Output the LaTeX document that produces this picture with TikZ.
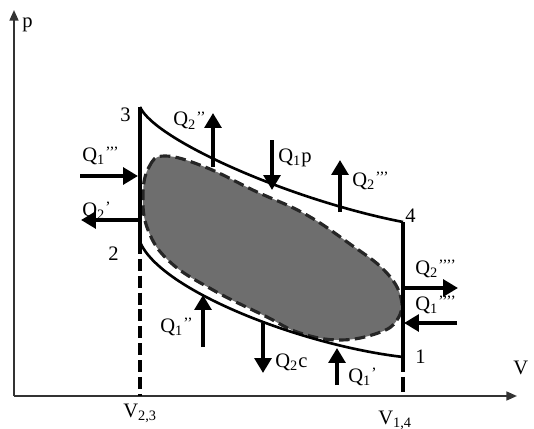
\documentclass[tikz,border=0pt]{standalone}
\usepackage{fontspec}
\setmainfont{Liberation Serif}
\usetikzlibrary{arrows.meta}
\tikzset{
  axis/.style  = {line width=1.2pt, draw=black!80, -{Triangle[length=6pt,width=5pt]}},
  wall/.style  = {line width=2pt},
  curve/.style = {line width=1.5pt},
  gap/.style   = {line width=2pt, dash pattern=on 6.8pt off 2.8pt},
  blob/.style  = {fill=black!57, draw=black!85, line width=1.8pt, dash pattern=on 6pt off 3pt},
  heat/.style  = {line width=2.8pt, -{Triangle[length=8.5pt,width=9.5pt]}},
  lbl/.style   = {font=\fontsize{11.7}{13}\selectfont, inner sep=0pt, anchor=base west},
}
\newcommand{\pr}[1]{\raisebox{1.8pt}{\fontsize{9}{9}\selectfont #1}}

\begin{document}
\begin{tikzpicture}[x=0.02cm, y=-0.02cm]
\useasboundingbox (0,0) rectangle (534,429);

% axes and corner points
\coordinate (o) at (14,396);
\coordinate (ptop) at (14,10);
\coordinate (vend) at (517,396);
\coordinate (c3) at (140,107);
\coordinate (c2) at (140,242);
\coordinate (c4) at (403,222);
\coordinate (c1) at (403,357);
\coordinate (v23) at (140,396);
\coordinate (v14) at (403,396);

\draw[axis] (o) -- (ptop);
\draw[axis] (o) -- (vend);

% working cycle
\filldraw[blob] plot[smooth cycle, tension=0.7] coordinates {
  (143,195) (149,167) (165,156) (205,167) (255,191) (305,214) (350,244)
  (385,271) (401,298) (397,320) (378,333) (340,340) (300,333) (265,316)
  (213,290) (170,262) (148,230)};

\draw[curve] (c3) .. controls (155,140) and (290,200) .. (c4);
\draw[curve] (c2) .. controls (160,290) and (300,345) .. (c1);
\draw[wall] (c3) -- (c2);
\draw[wall] (c4) -- (c1);
\draw[gap] (c2) -- (v23);
\draw[gap, dash pattern=on 8.5pt off 2.8pt] (c1) -- (v14);

% heat arrows: tails a, heads b
\coordinate (a1) at (80,176);   \coordinate (b1) at (138,176);
\coordinate (a2) at (139,220);  \coordinate (b2) at (81,220);
\coordinate (a3) at (213,167);  \coordinate (b3) at (213,113);
\coordinate (a4) at (272,140);  \coordinate (b4) at (272,190);
\coordinate (a5) at (340,212);  \coordinate (b5) at (340,160);
\coordinate (a6) at (403,288);  \coordinate (b6) at (458,288);
\coordinate (a7) at (457,323);  \coordinate (b7) at (404,323);
\coordinate (a8) at (203,347);  \coordinate (b8) at (203,295);
\coordinate (a9) at (263,323);  \coordinate (b9) at (263,373);
\coordinate (a10) at (337,385); \coordinate (b10) at (337,348);

\foreach \i in {1,...,10}
  \draw[heat] (a\i) -- (b\i);

% labels
\node[lbl] (lp) at (22,28) {p};
\node[lbl] (lv) at (513,374) {V};
\node[lbl] (l3) at (120,121) {3};
\node[lbl] (l2) at (108,260) {2};
\node[lbl] (l4) at (405,222) {4};
\node[lbl] (l1) at (415,363) {1};
\node[lbl] (lv23) at (123,417) {V\textsubscript{2,3}};
\node[lbl] (lv14) at (378,424) {V\textsubscript{1,4}};

\node[lbl] (lq1) at (82,161) {Q\textsubscript{1}\pr{’’’}};
\node[lbl] (lq2) at (82,216) {Q\textsubscript{2}\pr{’}};
\node[lbl] (lq3) at (173,126) {Q\textsubscript{2}\pr{’’}};
\node[lbl] (lq4) at (278,162) {Q\textsubscript{1}p};
\node[lbl] (lq5) at (352,186) {Q\textsubscript{2}\pr{’’’}};
\node[lbl] (lq6) at (415,274) {Q\textsubscript{2}\pr{’’’’}};
\node[lbl] (lq7) at (415,310) {Q\textsubscript{1}\pr{’’’’}};
\node[lbl] (lq8) at (160,332) {Q\textsubscript{1}\pr{’’}};
\node[lbl] (lq9) at (275,367) {Q\textsubscript{2}c};
\node[lbl] (lq10) at (348,382) {Q\textsubscript{1}\pr{’}};

\end{tikzpicture}
\end{document}
